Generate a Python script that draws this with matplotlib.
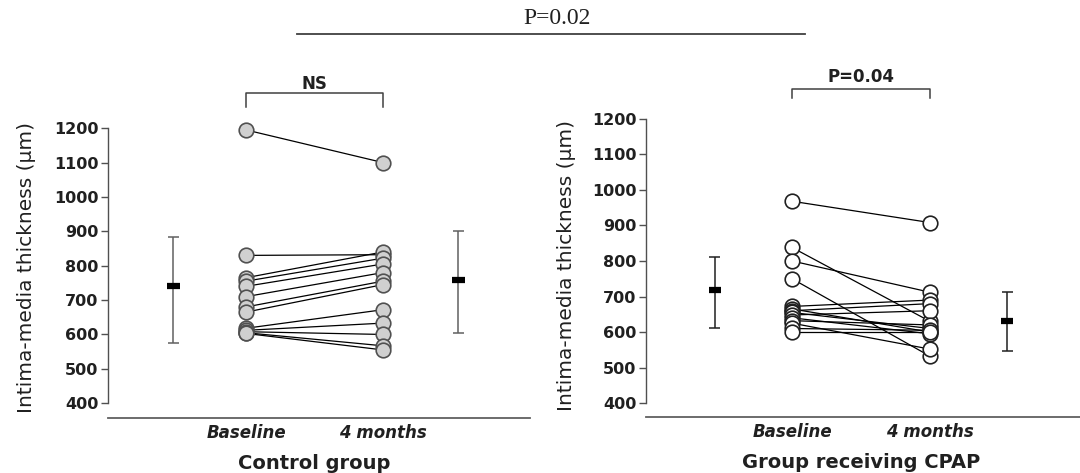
import matplotlib
matplotlib.use("Agg")
import matplotlib.pyplot as plt
from matplotlib.lines import Line2D

plt.rcParams['font.family'] = ['DejaVu Sans']

# ---- data ----
categories = ["Baseline", "4 months"]
yticks = [400, 500, 600, 700, 800, 900, 1000, 1100, 1200]

ctrl_baseline = [1195, 830, 765, 755, 740, 710, 680, 665, 618, 612, 608, 605, 603]
ctrl_4months = [1100, 832, 840, 822, 805, 780, 755, 745, 672, 633, 600, 567, 555]
ctrl_mean = [740, 757]
ctrl_low = [575, 603]
ctrl_high = [883, 900]

cpap_baseline = [968, 838, 800, 750, 672, 665, 660, 655, 648, 640, 632, 625, 610, 600]
cpap_4months = [908, 630, 712, 532, 690, 600, 680, 610, 660, 595, 620, 552, 605, 600]
cpap_mean = [718, 632]
cpap_low = [610, 547]
cpap_high = [810, 712]

titles = ["Control group", "Group receiving CPAP"]
pair_labels = ["NS", "P=0.04"]
overall_label = "P=0.02"
ylabel = "Intima-media thickness (\u00b5m)"

fig = plt.figure(figsize=(10.8, 4.73), dpi=100)

W, H = 1080, 473
PT = 0.72  # points per pixel at 100 dpi


def ax_rect(l, r, b, t):
    return [l / W, 1 - b / H, (r - l) / W, (b - t) / H]


panels = [
    dict(rect=ax_rect(108, 530, 418, 111), ylim=(357, 1250), xlim=(-1.007, 2.073),
         base=ctrl_baseline, post=ctrl_4months, mean=ctrl_mean, low=ctrl_low, high=ctrl_high,
         face="#d0d0d0", edge="#505050", errc="#606060", errx=(-0.53, 1.55),
         br_top=1302, br_leg=1261, br_txt=1328, ylab=(-0.17, 0.49)),
    dict(rect=ax_rect(646, 1080, 417, 101), ylim=(361, 1250), xlim=(-1.058, 2.087),
         base=cpap_baseline, post=cpap_4months, mean=cpap_mean, low=cpap_low, high=cpap_high,
         face="white", edge="#202020", errc="#202020", errx=(-0.56, 1.56),
         br_top=1285, br_leg=1259, br_txt=1318, ylab=(-0.162, 0.48)),
]

for i, p in enumerate(panels):
    ax = fig.add_axes(p["rect"])
    ax.set_ylim(*p["ylim"])
    ax.set_xlim(*p["xlim"])
    for b, a in zip(p["base"], p["post"]):
        ax.plot([0, 1], [b, a], color="black", lw=0.9, zorder=2, clip_on=False)
    ax.plot([0] * len(p["base"]), p["base"], "o", ms=10.5, mfc=p["face"], mec=p["edge"],
            mew=1.2, ls="none", zorder=3, clip_on=False)
    ax.plot([1] * len(p["post"]), p["post"], "o", ms=10.5, mfc=p["face"], mec=p["edge"],
            mew=1.2, ls="none", zorder=3, clip_on=False)
    # mean +/- SD
    for xi, m, lo, hi in zip(p["errx"], p["mean"], p["low"], p["high"]):
        ax.vlines(xi, lo, hi, color=p["errc"], lw=1.1)
        ax.hlines([lo, hi], xi - 0.04, xi + 0.04, color=p["errc"], lw=1.1)
        ax.hlines(m, xi - 0.045, xi + 0.045, color="black", lw=4.5, zorder=4)
    # spines
    for s in ["top", "right"]:
        ax.spines[s].set_visible(False)
    ax.spines["left"].set_bounds(400, 1200)
    ax.spines["left"].set_color("#505050")
    ax.spines["left"].set_linewidth(1.0)
    ax.spines["bottom"].set_color("#606060")
    ax.spines["bottom"].set_linewidth(1.3)
    ax.set_yticks(yticks)
    ax.set_yticklabels([str(t) for t in yticks], fontsize=11.5, fontweight="bold",
                       color="#202020")
    ax.tick_params(axis="y", length=5, width=1.0, color="#505050", pad=2)
    ax.set_xticks([])
    ax.set_ylabel(ylabel, fontsize=14.5, color="#202020")
    ax.yaxis.set_label_coords(*p["ylab"])
    # category labels
    for xi, c in zip([0, 1], categories):
        ax.annotate(c, xy=(xi, 0), xycoords=ax.get_xaxis_transform(),
                    xytext=(0, -15 * PT), textcoords="offset points",
                    ha="center", va="center", fontsize=12, fontweight="bold",
                    fontstyle="italic", color="#202020")
    ax.annotate(titles[i], xy=(0.5, 0), xycoords=ax.get_xaxis_transform(),
                xytext=(0, -45 * PT), textcoords="offset points",
                ha="center", va="center", fontsize=14, fontweight="bold", color="#202020")
    # bracket
    ax.plot([0, 0, 1, 1], [p["br_leg"], p["br_top"], p["br_top"], p["br_leg"]],
            color="#404040", lw=1.1, clip_on=False)
    ax.text(0.5, p["br_txt"], pair_labels[i], ha="center", va="center", fontsize=12,
            fontweight="bold", color="#202020")

fig.add_artist(Line2D([297 / W, 805 / W], [1 - 34 / H, 1 - 34 / H], color="#404040", lw=1.3))
fig.text(557 / W, 1 - 19 / H, overall_label, ha="center", va="center", fontsize=17,
         family=["Liberation Serif", "DejaVu Serif"], color="#202020")

fig.savefig("out.png", dpi=100)
